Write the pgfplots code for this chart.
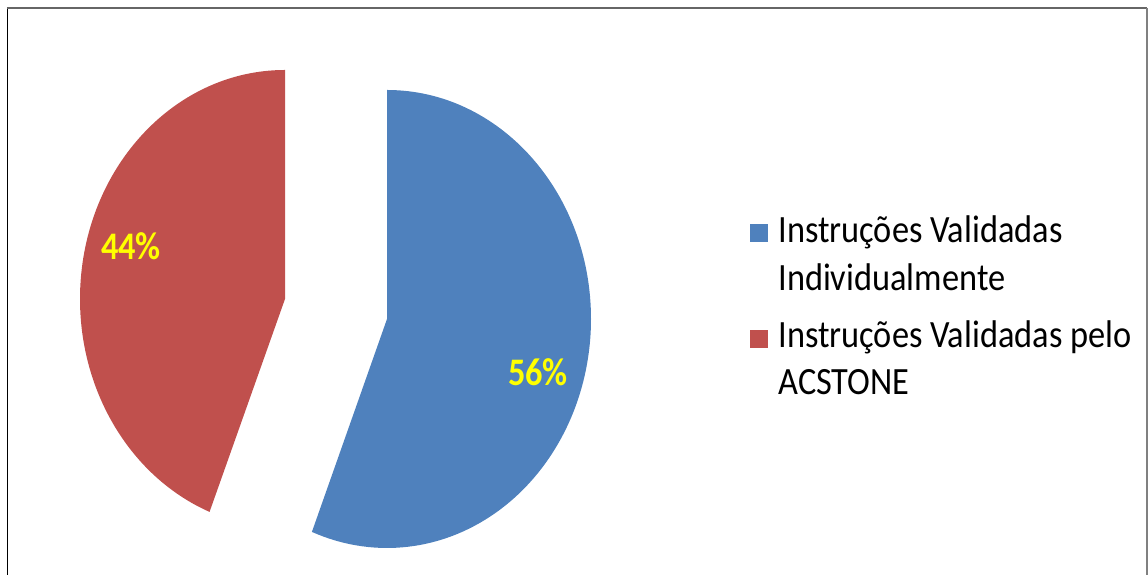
\documentclass[border=0pt]{standalone}
\usepackage{pgfplots}
\pgfplotsset{compat=1.18}
\usepackage{fontspec}
\setmainfont{Carlito}
\definecolor{sliceblue}{HTML}{4F81BD}
\definecolor{slicered}{HTML}{C0504D}
\definecolor{lblyellow}{HTML}{FFFF00}
% data (percent)
\def\valA{56}% Instruções Validadas Individualmente
\def\valB{44}% Instruções Validadas pelo ACSTONE
\begin{document}
\begin{tikzpicture}
\begin{axis}[
  x=0.5pt, y=0.5pt, scale only axis,
  xmin=0, xmax=1148, ymin=0, ymax=575,
  hide axis, clip=false]
\pgfmathsetmacro\angA{90-\valA*3.6}
\pgfmathsetmacro\angB{90+\valB*3.6}
\path (axis cs:0,0) (axis cs:1148,575);
% blue slice (exploded right)
\fill[sliceblue] (axis cs:387,256) -- ++(0,114.5pt)
  arc[start angle=90, end angle=\angA, x radius=102pt, y radius=114.5pt] -- cycle;
% red slice (exploded left)
\fill[slicered] (axis cs:285,276) -- ++(0,114.5pt)
  arc[start angle=90, end angle=\angB, x radius=102.5pt, y radius=114.5pt] -- cycle;
% labels
\node[text=lblyellow, xscale=0.88, font=\fontsize{19.5}{21}\selectfont\bfseries] at (axis cs:538,203) {\valA\%};
\node[text=lblyellow, xscale=0.88, font=\fontsize{19.5}{21}\selectfont\bfseries] at (axis cs:131,329) {\valB\%};
% legend
\fill[sliceblue] (axis cs:750,333) rectangle (axis cs:768,351);
\fill[slicered] (axis cs:750,227) rectangle (axis cs:768,245);
\begin{scope}[every node/.style={anchor=base west, inner sep=0pt, xscale=0.89, font=\fontsize{19.3}{21}\selectfont}]
\node at (axis cs:778,332) {Instruções Validadas};
\node at (axis cs:778,284) {Individualmente};
\node at (axis cs:778,227) {Instruções Validadas pelo};
\node at (axis cs:778,180) {ACSTONE};
\end{scope}
% frame
\draw[black, line width=0.8pt] (axis cs:7.5,0) -- (axis cs:7.5,566.5);
\draw[gray!80!black, line width=1pt] (axis cs:7,566.5) -- (axis cs:1147,566.5);
\draw[gray, line width=1pt] (axis cs:1146.5,566.5) -- (axis cs:1146.5,0);
\end{axis}
\end{tikzpicture}
\end{document}
